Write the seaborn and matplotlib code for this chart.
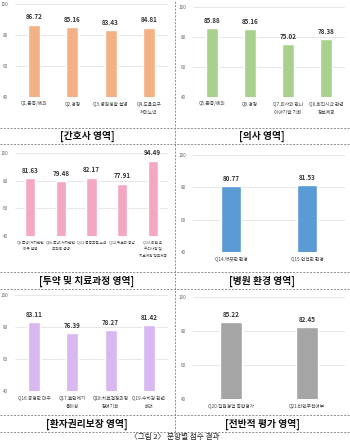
import matplotlib
matplotlib.use("Agg")
import matplotlib.pyplot as plt
import seaborn as sns
import pandas as pd
from matplotlib.lines import Line2D

sns.set_theme(style="white")
plt.rcParams['font.family'] = ['Noto Sans CJK KR', 'DejaVu Sans']

# ---- data ----
nurse_labels = ["Q1.존중/예의", "Q2.경청", "Q3.병원생활 설명", "Q4.도움요구\n처리노력"]
nurse_values = [86.72, 85.16, 83.43, 84.81]

doctor_labels = ["Q5.존중/예의", "Q6.경청", "Q7.의사와 만나\n이야기할 기회", "Q8.회진시간 관련\n정보제공"]
doctor_values = [85.88, 85.16, 75.02, 78.38]

treat_labels = ["Q9.투약/처치관련\n이유 설명", "Q10.투약/처치관련\n부작용 설명", "Q11.통증조절 노력",
                "Q12.위로와 공감", "Q13.퇴원 후\n주의사항 및\n치료계획 정보제공"]
treat_values = [81.63, 79.48, 82.17, 77.91, 94.49]

env_labels = ["Q14.깨끗한 환경", "Q15.안전한 환경"]
env_values = [80.77, 81.53]

rights_labels = ["Q16.공평한 대우", "Q17.불만제기\n용이성", "Q18.치료결정과정\n참여기회", "Q19.수치감 관련\n배려"]
rights_values = [83.11, 76.39, 78.27, 81.42]

overall_labels = ["Q20.입원경험 종합평가", "Q21.타인추천여부"]
overall_values = [85.22, 82.45]

titles = ["[간호사 영역]", "[의사 영역]", "[투약 및 치료과정 영역]",
          "[병원 환경 영역]", "[환자권리보장 영역]", "[전반적 평가 영역]"]
colors = ["#F4B183", "#A9D18E", "#F4A7C3", "#5B9BD5", "#D9B8F2", "#A5A5A5"]
y_ticks = [40, 60, 80, 100]
caption = "〈그림 2〉 문항별 점수 결과"

W, H = 350, 442
fig = plt.figure(figsize=(W / 100, H / 100), dpi=100)
fig.patch.set_facecolor("white")

def rect(x0, y0, x1, y1):
    return [x0 / W, 1 - y1 / H, (x1 - x0) / W, (y1 - y0) / H]

panels = [
    (nurse_labels, nurse_values, rect(15, 4, 168, 97), 0.32, 3.4),
    (doctor_labels, doctor_values, rect(193, 7, 345, 97), 0.32, 3.4),
    (treat_labels, treat_values, rect(15, 153, 168, 236), 0.33, 2.7),
    (env_labels, env_values, rect(193, 155, 345, 252), 0.26, 3.4),
    (rights_labels, rights_values, rect(15, 295, 168, 391), 0.32, 3.4),
    (overall_labels, overall_values, rect(193, 297, 345, 399), 0.30, 3.4),
]

for i, (labels, values, r, width, fs) in enumerate(panels):
    ax = fig.add_axes(r)
    df = pd.DataFrame({"item": labels, "score": values})
    sns.barplot(data=df, x="item", y="score", color=colors[i], width=width,
                saturation=1, ax=ax, zorder=3)
    ax.set_ylim(40, 100)
    ax.set_yticks(y_ticks)
    ax.set_xlabel("")
    ax.set_ylabel("")
    ax.grid(axis="y", color="#E3E3E3", linewidth=0.6, zorder=0)
    for s in ax.spines.values():
        s.set_visible(False)
    ax.tick_params(axis="y", labelsize=3.3, colors="#666666", length=0, pad=5)
    ax.tick_params(axis="x", labelsize=fs, colors="#444444", length=0, pad=3)
    for t in ax.get_xticklabels():
        t.set_linespacing(1.9)
        t.set_verticalalignment("top")
    ax.bar_label(ax.containers[0], fmt="%.2f", fontsize=4.5, fontweight="bold",
                 color="#333333", padding=3)

# titles and dashed frames
title_y = [136, 281, 424]
line_pairs = [(128, 144), (272, 289), (415, 432)]
for row in range(3):
    for col in range(2):
        xc = 87 if col == 0 else 262
        fig.text(xc / W, 1 - title_y[row] / H, titles[row * 2 + col], ha="center",
                 va="center", fontsize=7, fontweight="bold", color="#111111")
    for yl in line_pairs[row]:
        fig.add_artist(Line2D([0, 1], [1 - yl / H] * 2, transform=fig.transFigure,
                              color="#8C8C8C", linewidth=0.7, linestyle=(0, (2, 1.5))))
fig.add_artist(Line2D([175 / W] * 2, [1 - 432 / H, 1], transform=fig.transFigure,
                      color="#8C8C8C", linewidth=0.7, linestyle=(0, (2, 1.5))))

fig.text(0.5, 1 - 437 / H, caption, ha="center", va="center", fontsize=5.5, color="#222222")

fig.savefig("out.png", dpi=100)
